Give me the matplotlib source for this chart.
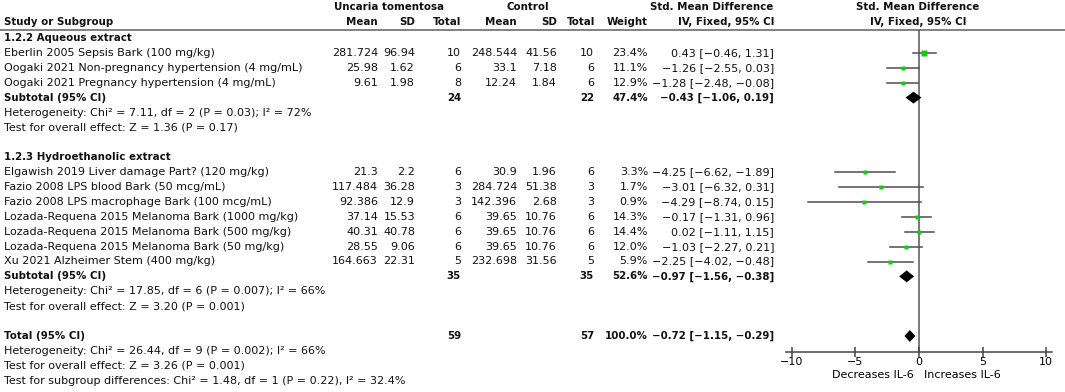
import matplotlib
matplotlib.use("Agg")
import numpy as np
import matplotlib.pyplot as plt

# study rows
studies = [
    "Eberlin 2005 Sepsis Bark (100 mg/kg)",
    "Oogaki 2021 Non-pregnancy hypertension (4 mg/mL)",
    "Oogaki 2021 Pregnancy hypertension (4 mg/mL)",
    "Elgawish 2019 Liver damage Part? (120 mg/kg)",
    "Fazio 2008 LPS blood Bark (50 mcg/mL)",
    "Fazio 2008 LPS macrophage Bark (100 mcg/mL)",
    "Lozada-Requena 2015 Melanoma Bark (1000 mg/kg)",
    "Lozada-Requena 2015 Melanoma Bark (500 mg/kg)",
    "Lozada-Requena 2015 Melanoma Bark (50 mg/kg)",
    "Xu 2021 Alzheimer Stem (400 mg/kg)",
]
study_rows = [1, 2, 3, 9, 10, 11, 12, 13, 14, 15]
exp_mean = [281.724, 25.98, 9.61, 21.3, 117.484, 92.386, 37.14, 40.31, 28.55, 164.663]
exp_sd = [96.94, 1.62, 1.98, 2.2, 36.28, 12.9, 15.53, 40.78, 9.06, 22.31]
exp_n = [10, 6, 8, 6, 3, 3, 6, 6, 6, 5]
ctl_mean = [248.544, 33.1, 12.24, 30.9, 284.724, 142.396, 39.65, 39.65, 39.65, 232.698]
ctl_sd = [41.56, 7.18, 1.84, 1.96, 51.38, 2.68, 10.76, 10.76, 10.76, 31.56]
ctl_n = [10, 6, 6, 6, 3, 3, 6, 6, 6, 5]
weight = [23.4, 11.1, 12.9, 3.3, 1.7, 0.9, 14.3, 14.4, 12.0, 5.9]
smd = [0.43, -1.26, -1.28, -4.25, -3.01, -4.29, -0.17, 0.02, -1.03, -2.25]
ci_lo = [-0.46, -2.55, -2.48, -6.62, -6.32, -8.74, -1.31, -1.11, -2.27, -4.02]
ci_hi = [1.31, 0.03, -0.08, -1.89, 0.31, 0.15, 0.96, 1.15, 0.21, -0.48]

# pooled rows
pooled_labels = ["Subtotal (95% CI)", "Subtotal (95% CI)", "Total (95% CI)"]
pooled_rows = [4, 16, 20]
pooled_exp_n = [24, 35, 59]
pooled_ctl_n = [22, 35, 57]
pooled_weight = [47.4, 52.6, 100.0]
pooled_smd = [-0.43, -0.97, -0.72]
pooled_lo = [-1.06, -1.56, -1.15]
pooled_hi = [0.19, -0.38, -0.29]

group_labels = ["1.2.2 Aqueous extract", "1.2.3 Hydroethanolic extract"]
group_rows = [0, 8]

notes = [
    "Heterogeneity: Chi² = 7.11, df = 2 (P = 0.03); I² = 72%",
    "Test for overall effect: Z = 1.36 (P = 0.17)",
    "Heterogeneity: Chi² = 17.85, df = 6 (P = 0.007); I² = 66%",
    "Test for overall effect: Z = 3.20 (P = 0.001)",
    "Heterogeneity: Chi² = 26.44, df = 9 (P = 0.002); I² = 66%",
    "Test for overall effect: Z = 3.26 (P = 0.001)",
    "Test for subgroup differences: Chi² = 1.48, df = 1 (P = 0.22), I² = 32.4%",
]
note_rows = [5, 6, 17, 18, 21, 22, 23]

x_ticks = [-10, -5, 0, 5, 10]

plt.rcParams["font.family"] = ["DejaVu Sans"]
FS = 8
FSB = 7.4   # bold text runs wide in DejaVu
W, H = 1065, 392
fig = plt.figure(figsize=(W / 100, H / 100), dpi=100)

# row k sits at pixel 38 + 14.9*k
def px2row(p):
    return (p - 38) / 14.9

ax0 = fig.add_axes([0, 0, 1, 1])
ax0.set_xlim(0, W)
ax0.set_ylim(px2row(H), px2row(0))
ax0.axis("off")

def fmt(v):
    return f"{v:.2f}".replace("-", "\u2212")

def t(x, y, s, ha="right", bold=False):
    ax0.text(x, y, s, ha=ha, va="center", fontsize=FSB if bold else FS,
             fontweight="bold" if bold else "normal", color="#111111")

# headers
h1, h2 = px2row(7), px2row(22)
t(389, h1, "Uncaria tomentosa", ha="center", bold=True)
t(528, h1, "Control", ha="center", bold=True)
t(773, h1, "Std. Mean Difference", bold=True)
t(918, h1, "Std. Mean Difference", ha="center", bold=True)
t(4, h2, "Study or Subgroup", ha="left", bold=True)
for x, s in zip([378, 415, 461, 517, 557, 595, 648, 774],
                ["Mean", "SD", "Total", "Mean", "SD", "Total", "Weight", "IV, Fixed, 95% CI"]):
    t(x, h2, s, bold=True)
t(918, h2, "IV, Fixed, 95% CI", ha="center", bold=True)
ax0.axhline(px2row(29.5), color="#777777", lw=1.3)

for lab, r in zip(group_labels, group_rows):
    t(4, r, lab, ha="left", bold=True)

for i, r in enumerate(study_rows):
    t(4, r, studies[i], ha="left")
    t(378, r, str(exp_mean[i]))
    t(415, r, str(exp_sd[i]))
    t(461, r, str(exp_n[i]))
    t(517, r, str(ctl_mean[i]))
    t(557, r, str(ctl_sd[i]))
    t(594, r, str(ctl_n[i]))
    t(648, r, f"{weight[i]:.1f}%")
    t(774, r, f"{fmt(smd[i])} [{fmt(ci_lo[i])}, {fmt(ci_hi[i])}]")

for i, r in enumerate(pooled_rows):
    t(4, r, pooled_labels[i], ha="left", bold=True)
    t(461, r, str(pooled_exp_n[i]), bold=True)
    t(594, r, str(pooled_ctl_n[i]), bold=True)
    t(648, r, f"{pooled_weight[i]:.1f}%", bold=True)
    t(774, r, f"{fmt(pooled_smd[i])} [{fmt(pooled_lo[i])}, {fmt(pooled_hi[i])}]", bold=True)

for s, r in zip(notes, note_rows):
    t(4, r, s, ha="left")

# forest panel
left, right = 785.6, 1052.4
top, bottom = 29.5, 352
ax = fig.add_axes([left / W, (H - bottom) / H, (right - left) / W, (bottom - top) / H])
ax.set_xlim(-10.5, 10.5)
ax.set_ylim(px2row(bottom), px2row(top))
ax.patch.set_alpha(0)
for sp in ["top", "left", "right"]:
    ax.spines[sp].set_visible(False)
ax.spines["bottom"].set_color("#444444")
ax.spines["bottom"].set_linewidth(1.1)
ax.set_yticks([])
ax.set_xticks(x_ticks)
ax.set_xticklabels([str(v).replace("-", "\u2212") for v in x_ticks])
ax.tick_params(axis="x", direction="inout", length=7, width=1.1, color="#444444",
               labelsize=FS, pad=0)
ax.axvline(0, color="#555555", lw=1.1, zorder=1)

for i, r in enumerate(study_rows):
    ax.plot([ci_lo[i], ci_hi[i]], [r, r], color="#4d4d4d", lw=1.1, zorder=2)
    side = max(1.3 * np.sqrt(weight[i]), 3.6) / 1.389
    ax.plot(smd[i], r, marker="s", ms=side, color="#11cc11", mec="none", zorder=3)

hh = 0.4
for i, r in enumerate(pooled_rows):
    ax.fill([pooled_lo[i], pooled_smd[i], pooled_hi[i], pooled_smd[i]],
            [r, r - hh, r, r + hh], color="black", zorder=3, lw=0)

yl = px2row(375)
ax.text(-0.45, yl, "Decreases IL-6", ha="right", va="center", fontsize=FS, clip_on=False)
ax.text(0.4, yl, "Increases IL-6", ha="left", va="center", fontsize=FS, clip_on=False)

fig.savefig("out.png", dpi=100)
